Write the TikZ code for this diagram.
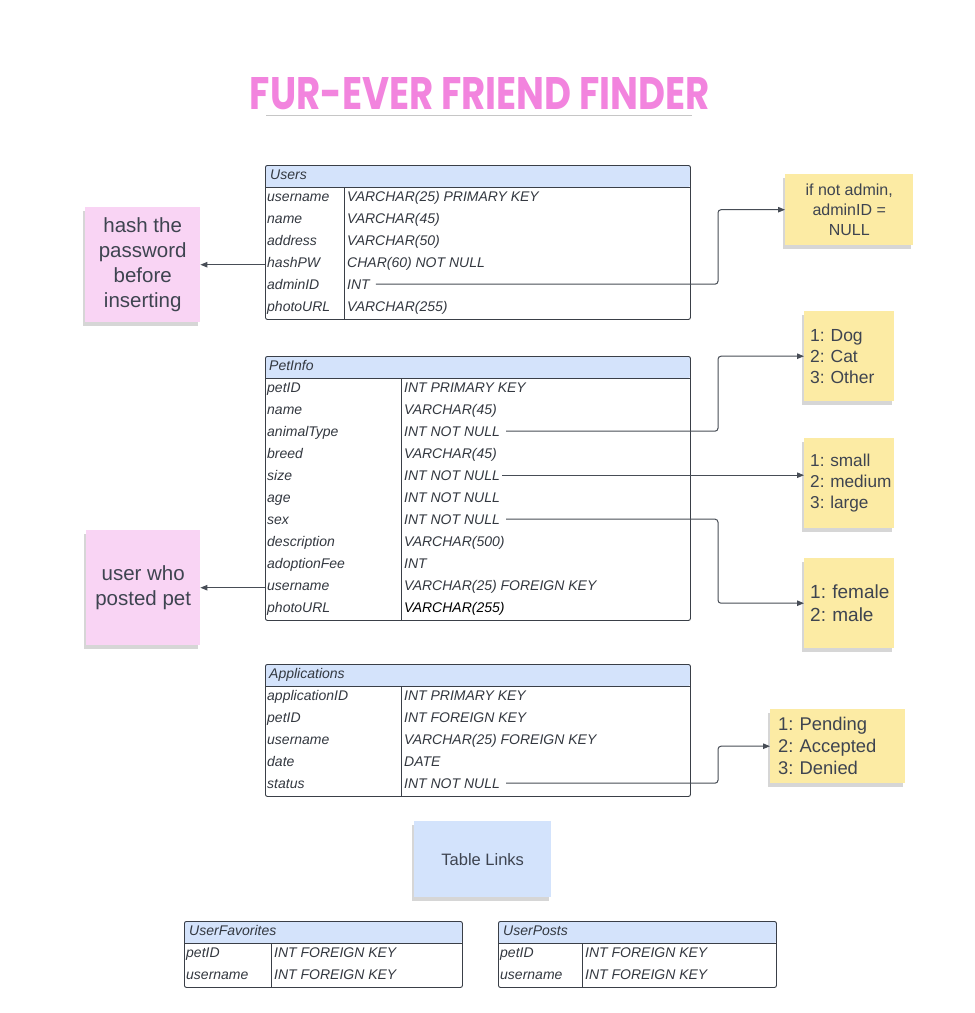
\documentclass[tikz,border=0pt]{standalone}
\usepackage{fontspec}
\usepackage{graphicx}
\setmainfont{Liberation Sans}
\newfontfamily\titlefont{Poppins}
\usetikzlibrary{arrows.meta,shadows}
\definecolor{hdr}{HTML}{D4E3FB}
\definecolor{tline}{HTML}{3A3F47}
\definecolor{txt}{HTML}{333840}
\definecolor{notetxt}{HTML}{3E4450}
\definecolor{conn}{HTML}{474D56}
\definecolor{pinknote}{HTML}{F9D4F4}
\definecolor{yellownote}{HTML}{FCEBA4}
\definecolor{bluenote}{HTML}{D3E3FC}
\definecolor{titlepink}{HTML}{F284DE}
\tikzset{
  tbl/.style={draw=tline, line width=0.9pt, rounded corners=2pt, inner sep=0pt, anchor=north west},
  grid/.style={draw=tline, line width=0.9pt},
  cell/.style={anchor=base west, inner sep=0pt, text=txt, font={\fontsize{14}{16}\selectfont\itshape}},
  notebase/.style={inner sep=0pt, anchor=north west, text=notetxt,
     drop shadow={shadow xshift=-2pt, shadow yshift=-4pt, opacity=0.16, fill=black}},
  pnote/.style={notebase, fill=pinknote, align=center, font={\fontsize{20.5}{25}\selectfont}},
  ynote/.style={notebase, fill=yellownote},
  ylist/.style={ynote, align=left},
  link/.style={draw=conn, line width=1pt, rounded corners=3pt, -{Triangle[length=7pt,width=5.5pt]}},
}
\begin{document}
\begin{tikzpicture}[x=1pt,y=-1pt]
\fill[white] (0,0) rectangle (975,1013);
\useasboundingbox (0,0) rectangle (975,1013);

% Title
\node[text=titlepink, inner sep=0pt] (title) at (480,94) {\resizebox{460pt}{32pt}{\titlefont\bfseries FUR-EVER FRIEND FINDER}};
\coordinate (ulA) at (266,115);
\coordinate (ulB) at (692,115);
\draw[gray!45, line width=1pt] (ulA) -- (ulB);

% ---------- Users ----------
\fill[hdr, rounded corners=2pt] (265,165) rectangle (690,187);
\node[tbl, minimum width=425pt, minimum height=154pt] (users) at (265,165) {};
\draw[grid] (265,187) -- (690,187);
\draw[grid] (344,187) -- (344,319);
\node[cell] (users-h) at (270,179) {Users};
\foreach \l/\v [count=\i from 0] in {username/VARCHAR(25) PRIMARY KEY, name/VARCHAR(45), address/VARCHAR(50), hashPW/CHAR(60) NOT NULL, adminID/INT, photoURL/VARCHAR(255)} {
  \node[cell] (u-l-\i) at (267,{201+22*\i}) {\l};
  \node[cell] (u-v-\i) at (347,{201+22*\i}) {\v};
}

% ---------- PetInfo ----------
\fill[hdr, rounded corners=2pt] (265,356) rectangle (690,378);
\node[tbl, minimum width=425pt, minimum height=264pt] (pet) at (265,356) {};
\draw[grid] (265,378) -- (690,378);
\draw[grid] (401,378) -- (401,620);
\node[cell] (pet-h) at (269,370) {PetInfo};
\foreach \l/\v [count=\i from 0] in {petID/INT PRIMARY KEY, name/VARCHAR(45), animalType/INT NOT NULL, breed/VARCHAR(45), size/INT NOT NULL, age/INT NOT NULL, sex/INT NOT NULL, description/VARCHAR(500), adoptionFee/INT, username/VARCHAR(25) FOREIGN KEY} {
  \node[cell] (p-l-\i) at (267,{392+22*\i}) {\l};
  \node[cell] (p-v-\i) at (404,{392+22*\i}) {\v};
}
\node[cell] (p-l-10) at (267,612) {photoURL};
\node[cell, text=black] (p-v-10) at (404,612) {VARCHAR(255)};

% ---------- Applications ----------
\fill[hdr, rounded corners=2pt] (265,664) rectangle (690,686);
\node[tbl, minimum width=425pt, minimum height=132pt] (apps) at (265,664) {};
\draw[grid] (265,686) -- (690,686);
\draw[grid] (401,686) -- (401,796);
\node[cell] (apps-h) at (269,678) {Applications};
\foreach \l/\v [count=\i from 0] in {applicationID/INT PRIMARY KEY, petID/INT FOREIGN KEY, username/VARCHAR(25) FOREIGN KEY, date/DATE, status/INT NOT NULL} {
  \node[cell] (a-l-\i) at (267,{700+22*\i}) {\l};
  \node[cell] (a-v-\i) at (404,{700+22*\i}) {\v};
}

% ---------- UserFavorites ----------
\fill[hdr, rounded corners=2pt] (184,921) rectangle (462,943);
\node[tbl, minimum width=278pt, minimum height=66pt] (fav) at (184,921) {};
\draw[grid] (184,943) -- (462,943);
\draw[grid] (271,943) -- (271,987);
\node[cell] (fav-h) at (189,935) {UserFavorites};
\foreach \l/\v [count=\i from 0] in {petID/INT FOREIGN KEY, username/INT FOREIGN KEY} {
  \node[cell] (f-l-\i) at (186,{957+22*\i}) {\l};
  \node[cell] (f-v-\i) at (274,{957+22*\i}) {\v};
}

% ---------- UserPosts ----------
\fill[hdr, rounded corners=2pt] (498,921) rectangle (776,943);
\node[tbl, minimum width=278pt, minimum height=66pt] (posts) at (498,921) {};
\draw[grid] (498,943) -- (776,943);
\draw[grid] (582,943) -- (582,987);
\node[cell] (posts-h) at (503,935) {UserPosts};
\foreach \l/\v [count=\i from 0] in {petID/INT FOREIGN KEY, username/INT FOREIGN KEY} {
  \node[cell] (s-l-\i) at (500,{957+22*\i}) {\l};
  \node[cell] (s-v-\i) at (585,{957+22*\i}) {\v};
}

% ---------- Notes ----------
\node[pnote, minimum width=115pt, minimum height=115pt] (nhash) at (85,207) {hash the\\password\\before\\inserting};
\node[pnote, minimum width=114pt, minimum height=115pt] (nuser) at (86,530) {user who\\posted pet};

\node[ynote, minimum width=128pt, minimum height=71pt, align=center, font={\fontsize{16}{20}\selectfont}] (nadmin) at (785,174) {if not admin,\\adminID =\\NULL};
\node[ylist, text width=78pt, inner xsep=6pt, minimum height=90pt, font={\fontsize{17.5}{21}\selectfont\frenchspacing}] (ntype) at (804,311) {\mbox{1: Dog}\\\mbox{2: Cat}\\\mbox{3: Other}};
\node[ylist, text width=78pt, inner xsep=6pt, minimum height=90pt, font={\fontsize{17.2}{21}\selectfont\frenchspacing}] (nsize) at (804,438) {\mbox{1: small}\\\mbox{2: medium}\\\mbox{3: large}};
\node[ylist, text width=78pt, inner xsep=6pt, minimum height=90pt, font={\fontsize{19}{23}\selectfont\frenchspacing}] (nsex) at (804,558) {\mbox{1: female}\\\mbox{2: male}};
\node[ylist, text width=119pt, inner xsep=8pt, minimum height=74pt, font={\fontsize{18.4}{22}\selectfont\frenchspacing}] (nstatus) at (770,709) {\mbox{1: Pending}\\\mbox{2: Accepted}\\\mbox{3: Denied}};

\node[notebase, fill=bluenote, minimum width=137pt, minimum height=76pt, font={\fontsize{16.5}{20}\selectfont}] (nlinks) at (414,821) {Table Links};

% ---------- Connectors ----------
\coordinate (xr) at (718,0);
\draw[link] (nhash.east -| users.west) -- (nhash.east);
\draw[link] (nuser.east -| pet.west) -- (nuser.east);

\coordinate (s1) at ([xshift=6pt]u-v-4.east);
\draw[link] (s1) -- (s1 -| xr) |- (nadmin.west);

\coordinate (s2) at ([xshift=6pt]p-v-2.east);
\draw[link] (s2) -- (s2 -| xr) |- (ntype.west);

\coordinate (s3) at ([xshift=2pt]p-v-4.east);
\draw[link] (s3) -- (s3 -| nsize.west);

\coordinate (s4) at ([xshift=6pt]p-v-6.east);
\draw[link] (s4) -- (s4 -| xr) |- (nsex.west);

\coordinate (s5) at ([xshift=6pt]a-v-4.east);
\draw[link] (s5) -- (s5 -| xr) |- (nstatus.west);
\end{tikzpicture}
\end{document}
